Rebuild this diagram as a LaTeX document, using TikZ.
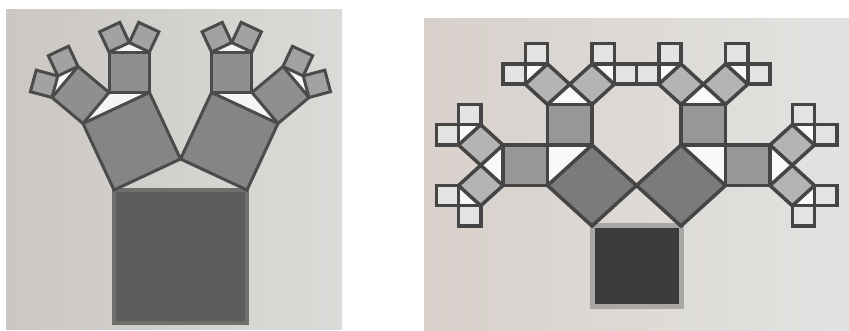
\documentclass[tikz,border=0pt]{standalone}
\usepackage{xcolor}
\usepackage{tikz}

\definecolor{paperLa}{HTML}{CBC7C3}
\definecolor{paperLb}{HTML}{DADBD8}
\definecolor{paperRa}{HTML}{D8D0CB}
\definecolor{paperRm}{HTML}{E8E8E7}
\definecolor{paperRb}{HTML}{E2E3E1}
\definecolor{inkL}{HTML}{4B4B4B}
\definecolor{inkR}{HTML}{454545}

% one square of the tree, then the triangle and both children on top of it
\newcommand\pbranch[1]{%
  \ifnum#1<\brtop\relax
    \path[tri #1] (0,1) -- (0.5,\brapex) -- (1,1) -- cycle;
  \fi
  \path[sq #1] (0,0) rectangle (1,1);
  \ifnum#1<\brtop\relax
    \pgfmathtruncatemacro\nxt{#1+1}%
    \begin{scope}[shift={(0,1)},rotate=\brang,scale=\brscale]
      \expandafter\pbranch\expandafter{\nxt}
    \end{scope}
    \begin{scope}[shift={(0.5,\brapex)},rotate=-\brang,scale=\brscale]
      \expandafter\pbranch\expandafter{\nxt}
    \end{scope}
  \fi}

\begin{document}
\begin{tikzpicture}[x=1pt,y=1pt]
\useasboundingbox (0,0) rectangle (849,331);
\fill[white] (0,0) rectangle (849,331);
% the two photos
\fill[left color=paperLa,right color=paperLb] (6,1) rectangle (342,321);
\fill[left color=paperRa,middle color=paperRm,right color=paperRb] (424,0) rectangle (849,312);

% left tree: obtuse triangles, 3 levels
\def\brang{25}\def\brtop{3}
\pgfmathsetmacro\brscale{1/(2*cos(\brang))}
\pgfmathsetmacro\brapex{1+0.5*tan(\brang)}
\begin{scope}[shift={(114,8)},scale=133,
  sq 0/.style={fill={rgb,255:red,93;green,92;blue,91},draw={rgb,255:red,112;green,111;blue,110},line width=4pt},
  sq 1/.style={fill={rgb,255:red,133;green,133;blue,133},draw=inkL,line width=3pt},
  sq 2/.style={fill={rgb,255:red,143;green,143;blue,143},draw=inkL,line width=3pt},
  sq 3/.style={fill={rgb,255:red,162;green,162;blue,162},draw=inkL,line width=3pt},
  tri 0/.style={},
  tri 1/.style={fill=white!92!gray},
  tri 2/.style={fill=white!92!gray}]
  \pbranch{0}
\end{scope}

% right tree: right isosceles triangles, 4 levels
\def\brang{45}\def\brtop{4}
\pgfmathsetmacro\brscale{1/(2*cos(\brang))}
\pgfmathsetmacro\brapex{1+0.5*tan(\brang)}
\begin{scope}[shift={(592,24)},xscale=89,yscale=81,
  sq 0/.style={fill={rgb,255:red,59;green,60;blue,59},draw={rgb,255:red,168;green,167;blue,166},line width=5pt},
  sq 1/.style={fill={rgb,255:red,123;green,123;blue,123},draw=inkR,line width=3.5pt},
  sq 2/.style={fill={rgb,255:red,151;green,151;blue,151},draw=inkR,line width=3.5pt},
  sq 3/.style={fill={rgb,255:red,180;green,180;blue,180},draw=inkR,line width=3.5pt},
  sq 4/.style={fill={rgb,255:red,227;green,227;blue,226},draw=inkR,line width=3.5pt},
  tri 0/.style={},
  tri 1/.style={fill=white!95!gray},
  tri 2/.style={fill=white!95!gray},
  tri 3/.style={fill=white!95!gray}]
  \pbranch{0}
\end{scope}
\end{tikzpicture}
\end{document}
